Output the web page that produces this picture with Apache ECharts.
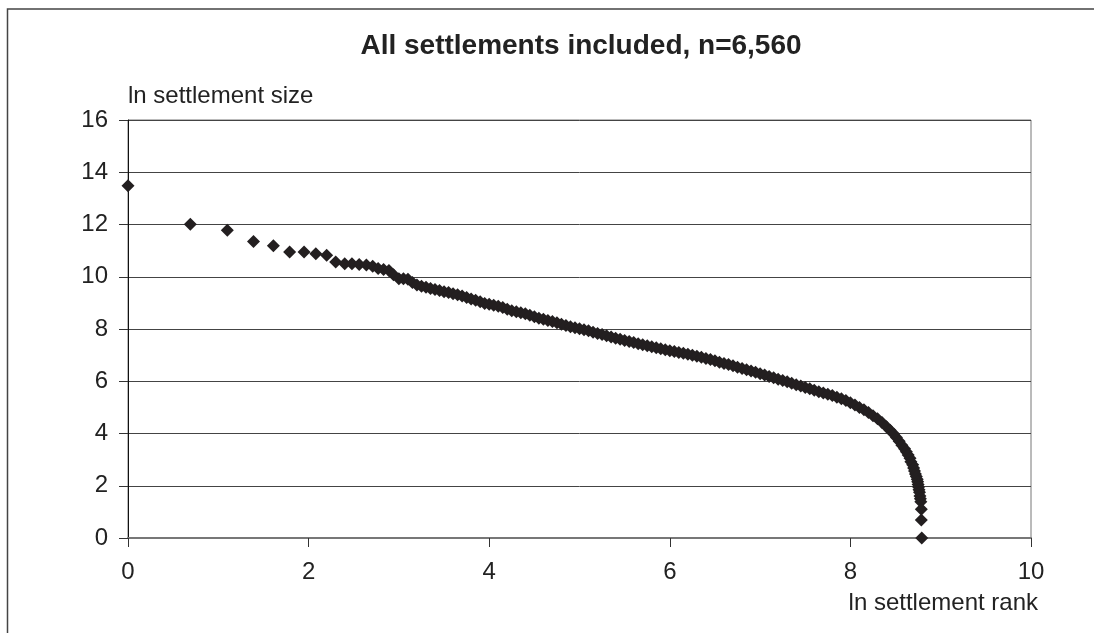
<!DOCTYPE html>
<html>
<head>
<meta charset="utf-8">
<title>All settlements included</title>
<script src="https://cdn.jsdelivr.net/npm/echarts@6/dist/echarts.min.js"></script>
<style>
html, body { margin: 0; padding: 0; background: #fff; }
#chart { width: 1094px; height: 633px; }
</style>
</head>
<body>
<div id="chart"></div>
<script>
// ln settlement rank (x) and ln settlement size (y)
var lnRank = [
  0, 0.69, 1.10, 1.39, 1.61, 1.79, 1.95, 2.08, 2.20,
  2.30, 2.40, 2.48, 2.56, 2.64, 2.71, 2.77, 2.83, 2.89, 2.94, 3.00,
  3.05, 3.10, 3.15, 3.20, 3.25, 3.30, 3.35, 3.40, 3.45, 3.50,
  3.55, 3.60, 3.65, 3.70, 3.75, 3.80, 3.85, 3.90, 3.95, 4.00,
  4.05, 4.10, 4.15, 4.20, 4.25, 4.30, 4.35, 4.40, 4.45, 4.50,
  4.55, 4.60, 4.65, 4.70, 4.75, 4.80, 4.85, 4.90, 4.95, 5.00,
  5.05, 5.10, 5.15, 5.20, 5.25, 5.30, 5.35, 5.40, 5.45, 5.50,
  5.55, 5.60, 5.65, 5.70, 5.75, 5.80, 5.85, 5.90, 5.95, 6.00,
  6.05, 6.10, 6.15, 6.20, 6.25, 6.30, 6.35, 6.40, 6.45, 6.50,
  6.55, 6.60, 6.65, 6.70, 6.75, 6.80, 6.85, 6.90, 6.95, 7.00,
  7.05, 7.10, 7.15, 7.20, 7.25, 7.30, 7.35, 7.40, 7.45, 7.50,
  7.55, 7.60, 7.65, 7.70, 7.75, 7.80, 7.85, 7.90, 7.95, 8.00,
  8.05, 8.10, 8.15, 8.20, 8.25, 8.30, 8.35, 8.40,
  8.44, 8.48, 8.51, 8.54, 8.57, 8.60, 8.62, 8.64, 8.66, 8.67,
  8.69, 8.70, 8.71, 8.72, 8.73, 8.74, 8.745, 8.75, 8.755, 8.76,
  8.765, 8.77, 8.775, 8.78, 8.785, 8.785, 8.79
];
var lnSize = [
  13.48, 12.01, 11.78, 11.35, 11.19, 10.95, 10.95, 10.88, 10.82,
  10.56, 10.50, 10.50, 10.47, 10.45, 10.40, 10.32, 10.28, 10.24, 10.08, 9.92,
  9.92, 9.90, 9.78, 9.68, 9.64, 9.60, 9.55, 9.51, 9.47, 9.43,
  9.40, 9.35, 9.31, 9.26, 9.21, 9.15, 9.10, 9.04, 8.98, 8.95,
  8.91, 8.87, 8.82, 8.76, 8.70, 8.66, 8.62, 8.58, 8.53, 8.47,
  8.41, 8.37, 8.33, 8.29, 8.24, 8.18, 8.13, 8.09, 8.05, 8.01,
  7.97, 7.93, 7.88, 7.83, 7.79, 7.74, 7.69, 7.65, 7.61, 7.56,
  7.52, 7.48, 7.44, 7.40, 7.36, 7.32, 7.28, 7.24, 7.21, 7.17,
  7.14, 7.10, 7.07, 7.03, 7.00, 6.96, 6.92, 6.87, 6.83, 6.78,
  6.73, 6.68, 6.64, 6.59, 6.54, 6.49, 6.44, 6.39, 6.34, 6.29,
  6.24, 6.18, 6.13, 6.08, 6.03, 5.98, 5.92, 5.87, 5.82, 5.76,
  5.71, 5.66, 5.60, 5.55, 5.50, 5.45, 5.39, 5.33, 5.26, 5.18,
  5.09, 5.00, 4.91, 4.80, 4.68, 4.56, 4.42, 4.26,
  4.12, 3.98, 3.85, 3.70, 3.55, 3.42, 3.30, 3.18, 3.05, 2.92,
  2.80, 2.68, 2.56, 2.45, 2.35, 2.25, 2.15, 2.05, 1.95, 1.85,
  1.75, 1.61, 1.50, 1.39, 1.10, 0.69, 0
];
var xTicks = [0, 2, 4, 6, 8, 10];
var yTicks = [0, 2, 4, 6, 8, 10, 12, 14, 16];

var titleText = 'All settlements included, n=6,560';
var xName = 'ln settlement rank';
var yName = 'ln settlement size';

var font = '"Liberation Sans", Arial, sans-serif';

var points = lnRank.map(function (r, i) { return [r, lnSize[i]]; });

var chart = echarts.init(document.getElementById('chart'), null, { renderer: 'canvas' });

chart.setOption({
  backgroundColor: '#fff',
  animation: false,
  textStyle: { fontFamily: font },
  title: {
    text: titleText,
    left: 576,
    top: 27,
    textAlign: 'center',
    textStyle: { fontFamily: font, fontSize: 28, fontWeight: 'bold', color: '#222' }
  },
  graphic: [{
    type: 'rect',
    shape: { x: 7.5, y: 9, width: 1200, height: 1000 },
    style: { fill: 'none', stroke: '#444', lineWidth: 1.5 },
    silent: true
  }],
  grid: {
    left: 128, right: 63, top: 120, bottom: 95,
    show: true, borderColor: '#777', borderWidth: 1
  },
  xAxis: {
    type: 'value',
    min: xTicks[0],
    max: xTicks[xTicks.length - 1],
    interval: 2,
    name: xName,
    nameLocation: 'end',
    nameGap: 7,
    nameTextStyle: {
      fontFamily: font, fontSize: 24, color: '#222',
      align: 'right', verticalAlign: 'top', padding: [53, 0, 0, 0]
    },
    axisLine: { show: true, lineStyle: { color: '#777', width: 2 } },
    axisTick: { show: true, length: 9, lineStyle: { color: '#333' } },
    axisLabel: { fontFamily: font, fontSize: 24, color: '#222', margin: 22 },
    splitLine: { show: false }
  },
  yAxis: {
    type: 'value',
    min: yTicks[0],
    max: yTicks[yTicks.length - 1],
    interval: 2,
    name: yName,
    nameLocation: 'end',
    nameGap: 12,
    nameTextStyle: {
      fontFamily: font, fontSize: 24, color: '#222',
      align: 'left', verticalAlign: 'bottom'
    },
    axisLine: { show: true, lineStyle: { color: '#111', width: 1 } },
    axisTick: { show: true, length: 9, lineStyle: { color: '#333' } },
    axisLabel: { fontFamily: font, fontSize: 24, color: '#222', margin: 20 },
    splitLine: { show: true, lineStyle: { color: '#444', width: 1 } }
  },
  series: [{
    name: 'settlements',
    type: 'scatter',
    symbol: 'diamond',
    symbolSize: 13,
    itemStyle: { color: '#231f20', opacity: 1 },
    data: points
  }]
});

window.addEventListener('resize', function () { chart.resize(); });
</script>
</body>
</html>
